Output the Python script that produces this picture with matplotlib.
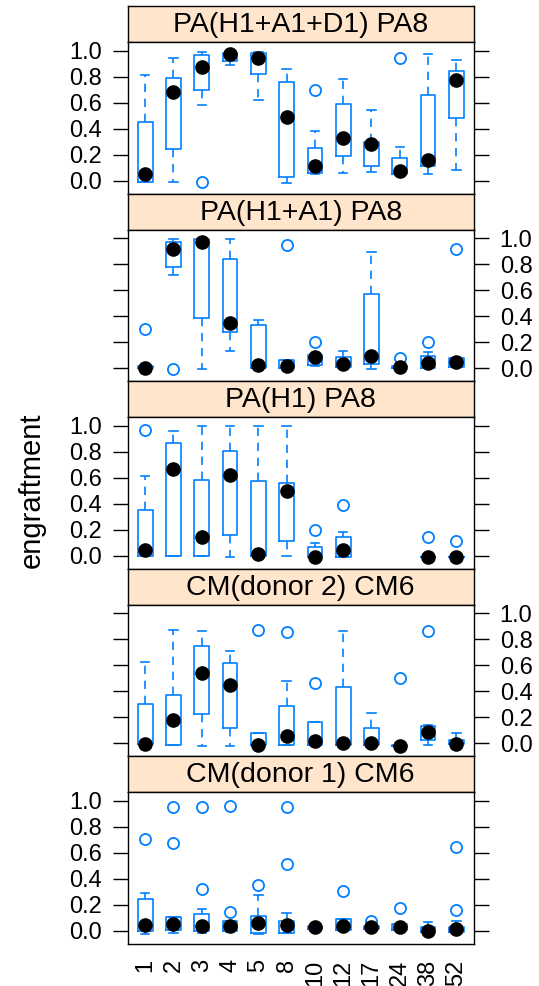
import numpy as np
import matplotlib.pyplot as plt

plt.rcParams['font.family'] = ['Liberation Sans', 'DejaVu Sans']

categories = ['1', '2', '3', '4', '5', '8', '10', '12', '17', '24', '38', '52']

# one row per category: whisker low, q1, median, q3, whisker high  (None = no data)
hiad_stats = [
    [-0.01, -0.01, 0.05, 0.45, 0.81],
    [-0.01, 0.24, 0.68, 0.79, 0.94],
    [0.58, 0.70, 0.87, 0.965, 0.99],
    [0.89, 0.92, 0.97, 0.985, 0.99],
    [0.62, 0.82, 0.945, 0.985, 0.99],
    [-0.015, 0.03, 0.49, 0.755, 0.855],
    [0.05, 0.06, 0.11, 0.25, 0.385],
    [0.06, 0.19, 0.325, 0.59, 0.78],
    [0.065, 0.11, 0.285, 0.295, 0.54],
    [0.04, 0.05, 0.07, 0.175, 0.255],
    [0.05, 0.11, 0.16, 0.66, 0.975],
    [0.08, 0.48, 0.77, 0.845, 0.93],
]
hiad_out = [[], [], [-0.01], [], [], [], [0.70], [], [], [0.94], [], []]

hia_stats = [
    [0.0, 0.0, 0.0, 0.02, 0.03],
    [0.72, 0.775, 0.92, 0.97, 0.99],
    [-0.005, 0.385, 0.97, 0.995, 1.0],
    [0.135, 0.275, 0.35, 0.84, 0.99],
    [0.0, 0.0, 0.025, 0.335, 0.37],
    [0.0, 0.005, 0.018, 0.06, 0.065],
    [0.02, 0.025, 0.085, 0.10, 0.11],
    [0.0, 0.01, 0.03, 0.085, 0.132],
    [-0.01, 0.033, 0.095, 0.57, 0.89],
    [0.0, 0.003, 0.01, 0.02, 0.03],
    [0.0, 0.005, 0.038, 0.09, 0.127],
    [0.013, 0.013, 0.048, 0.08, 0.08],
]
hia_out = [[0.30], [-0.005], [], [], [], [0.95], [0.205], [], [], [0.08], [0.198], [0.915]]

h_stats = [
    [0.0, 0.0, 0.048, 0.356, 0.61],
    [0.0, 0.0, 0.665, 0.87, 0.96],
    [0.0, 0.0, 0.142, 0.58, 1.0],
    [-0.01, 0.16, 0.625, 0.807, 1.0],
    [0.0, 0.0, 0.01, 0.577, 1.0],
    [0.0, 0.113, 0.495, 0.557, 1.0],
    [-0.013, -0.01, -0.012, 0.065, 0.097],
    [-0.01, -0.01, 0.045, 0.142, 0.183],
    None,
    None,
    [-0.013, -0.013, -0.013, -0.013, -0.013],
    [-0.013, -0.013, -0.013, -0.013, -0.013],
]
h_out = [[0.966], [], [], [], [], [], [0.196], [0.387], [], [], [0.144], [0.113]]

cm2_stats = [
    [-0.005, -0.005, -0.005, 0.30, 0.625],
    [-0.015, -0.015, 0.178, 0.37, 0.87],
    [-0.02, 0.224, 0.538, 0.75, 0.865],
    [-0.02, 0.12, 0.451, 0.615, 0.708],
    [-0.015, -0.015, -0.01, 0.08, 0.08],
    [-0.015, -0.013, 0.057, 0.287, 0.48],
    [-0.015, -0.015, 0.022, 0.162, 0.162],
    [-0.01, -0.01, 0.004, 0.43, 0.865],
    [-0.01, -0.01, 0.006, 0.12, 0.237],
    [-0.02, -0.02, -0.018, -0.015, -0.015],
    [-0.015, 0.023, 0.09, 0.136, 0.14],
    [-0.01, -0.008, -0.008, 0.023, 0.077],
]
cm2_out = [[], [], [], [], [0.872], [0.86], [0.462], [], [], [0.505], [0.864], []]

cm1_stats = [
    [-0.023, 0.0, 0.045, 0.244, 0.29],
    [-0.013, 0.008, 0.053, 0.105, 0.105],
    [-0.013, 0.0, 0.04, 0.131, 0.169],
    [-0.005, 0.0, 0.035, 0.075, 0.075],
    [-0.023, -0.018, 0.059, 0.115, 0.275],
    [-0.018, -0.018, 0.046, 0.08, 0.141],
    [0.01, 0.015, 0.027, 0.035, 0.04],
    [0.0, 0.01, 0.036, 0.093, 0.095],
    [0.01, 0.015, 0.027, 0.035, 0.04],
    [0.0, 0.01, 0.032, 0.05, 0.055],
    [-0.01, -0.01, 0.003, 0.03, 0.067],
    [-0.01, -0.01, 0.013, 0.03, 0.08],
]
cm1_out = [[0.705], [0.68, 0.952], [0.32, 0.952], [0.149, 0.965], [0.354],
           [0.513, 0.952], [], [0.308], [0.077], [0.18], [], [0.162, 0.644]]

panel_titles = ['PA(H1+A1+D1) PA8', 'PA(H1+A1) PA8', 'PA(H1) PA8',
                'CM(donor 2) CM6', 'CM(donor 1) CM6']
panel_stats = [hiad_stats, hia_stats, h_stats, cm2_stats, cm1_stats]
panel_out = [hiad_out, hia_out, h_out, cm2_out, cm1_out]

blue = '#0080ff'
strip_bg = '#ffe5cc'

fig = plt.figure(figsize=(5.39, 9.86), dpi=100)
W, H = 539.0, 986.0
left, right = 127.5, 474.0
top0, step, strip_h = 6.0, 187.6, 36.0
xpos = np.arange(1, len(categories) + 1)

for k in range(len(panel_titles)):
    y_top = top0 + step * k
    strip = fig.add_axes([left / W, 1 - (y_top + strip_h) / H, (right - left) / W, strip_h / H])
    strip.set_facecolor(strip_bg)
    strip.set_xticks([])
    strip.set_yticks([])
    for s in strip.spines.values():
        s.set_linewidth(1.0)
    strip.text(0.5, 0.47, panel_titles[k], ha='center', va='center', fontsize=20.5,
               transform=strip.transAxes)

    ax = fig.add_axes([left / W, 1 - (y_top + step) / H, (right - left) / W, (step - strip_h) / H])
    for s in ax.spines.values():
        s.set_linewidth(1.0)

    stats, pos, meds = [], [], []
    for i, row in enumerate(panel_stats[k]):
        if row is None:
            continue
        lo, q1, med, q3, hi = row
        stats.append({'whislo': lo, 'q1': q1, 'med': med, 'q3': q3, 'whishi': hi,
                      'fliers': panel_out[k][i]})
        pos.append(xpos[i])
        meds.append(med)

    ax.bxp(stats, positions=pos, widths=0.52, capwidths=0.3, manage_ticks=False,
           boxprops={'color': blue, 'linewidth': 1.2},
           whiskerprops={'color': blue, 'linewidth': 1.2, 'linestyle': (0, (5, 4))},
           capprops={'color': blue, 'linewidth': 1.2},
           medianprops={'linestyle': 'none'},
           flierprops={'marker': 'o', 'markerfacecolor': 'none', 'markeredgecolor': blue,
                       'markersize': 8, 'markeredgewidth': 1.3})
    ax.plot(pos, meds, 'o', color='black', markersize=9.5, zorder=5)

    ax.set_xlim(0.375, 12.625)
    ax.set_ylim(-0.1, 1.066)
    ax.set_yticks([0.0, 0.2, 0.4, 0.6, 0.8, 1.0])
    ax.set_yticklabels(['0.0', '0.2', '0.4', '0.6', '0.8', '1.0'])
    ax.tick_params(axis='y', left=True, right=True, direction='out', length=10.5,
                   width=1.0, labelsize=17, pad=8,
                   labelleft=(k % 2 == 0), labelright=(k % 2 == 1))
    ax.set_xticks(xpos)
    if k == len(panel_titles) - 1:
        ax.set_xticklabels(categories, rotation=90, fontsize=17)
        ax.tick_params(axis='x', length=0, pad=11)
    else:
        ax.set_xticklabels([])
        ax.tick_params(axis='x', length=0)

fig.text(32 / W, 1 - 490 / H, 'engraftment', rotation=90, ha='center', va='center', fontsize=21)

fig.savefig('out.png', dpi=100)
